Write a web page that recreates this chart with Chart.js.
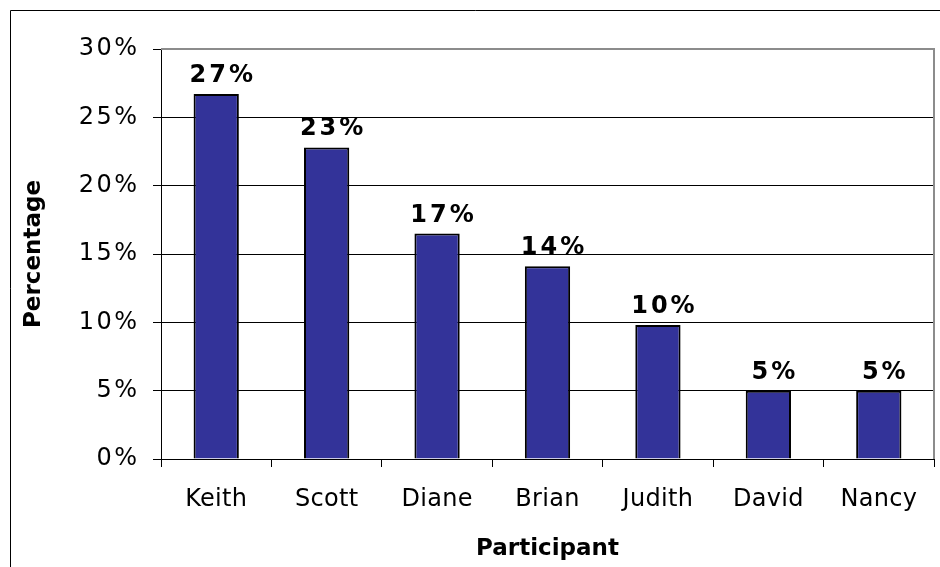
<!DOCTYPE html>
<html>
<head>
<meta charset="utf-8">
<title>Participant percentages</title>
<script src="https://cdn.jsdelivr.net/npm/chart.js@4/dist/chart.umd.min.js"></script>
<style>
  html, body { margin: 0; padding: 0; background: #fff; overflow: hidden; }
  canvas { display: block; }
</style>
</head>
<body>
<canvas id="chart" width="940" height="567"></canvas>
<script>
// Chart data
const participants = ['Keith', 'Scott', 'Diane', 'Brian', 'Judith', 'David', 'Nancy'];
const percentages = [26.7, 22.8, 16.5, 14.1, 9.8, 5.0, 5.0];
const yTicks = [0, 5, 10, 15, 20, 25, 30];

const FONT = "'DejaVu Sans', Verdana, sans-serif";

// wrap a scale's label drawing so its text gets some letter spacing
function spaceLabels(scale, spacing) {
  const proto = Object.getPrototypeOf(scale);
  scale.drawLabels = function (area) {
    const ctx = this.ctx;
    ctx.save();
    if ('letterSpacing' in ctx) ctx.letterSpacing = spacing + 'px';
    proto.drawLabels.call(this, area);
    ctx.restore();
  };
}

// Outer frame and gray plot border, like the spreadsheet export
const framePlugin = {
  id: 'frame',
  beforeDraw(chart) {
    const ctx = chart.ctx;
    ctx.save();
    ctx.strokeStyle = '#000';
    ctx.lineWidth = 1;
    ctx.beginPath();
    ctx.moveTo(10.5, chart.height);
    ctx.lineTo(10.5, 10.5);
    ctx.lineTo(chart.width, 10.5);
    ctx.stroke();
    ctx.restore();
  },
  afterDatasetsDraw(chart) {
    const { ctx, chartArea } = chart;
    ctx.save();
    ctx.strokeStyle = '#8c8c8c';
    ctx.lineWidth = 2;
    ctx.beginPath();
    ctx.moveTo(chartArea.left, chartArea.top);
    ctx.lineTo(chartArea.right, chartArea.top);
    ctx.lineTo(chartArea.right, chartArea.bottom);
    ctx.stroke();
    ctx.restore();
  }
};

// Value labels above each bar
const valueLabels = {
  id: 'valueLabels',
  afterDatasetsDraw(chart) {
    const ctx = chart.ctx;
    const meta = chart.getDatasetMeta(0);
    const spacing = 3;
    ctx.save();
    ctx.font = 'bold 24px ' + FONT;
    ctx.fillStyle = '#000';
    ctx.textAlign = 'center';
    ctx.textBaseline = 'alphabetic';
    if ('letterSpacing' in ctx) ctx.letterSpacing = spacing + 'px';
    meta.data.forEach((bar, i) => {
      // Excel sets these a touch right of the bar centre
      ctx.fillText(Math.round(percentages[i]) + '%', bar.x + spacing / 2 + 5, bar.y - 12);
    });
    ctx.restore();
  }
};

new Chart(document.getElementById('chart'), {
  type: 'bar',
  data: {
    labels: participants,
    datasets: [{
      data: percentages,
      backgroundColor: '#333399',
      borderColor: '#000',
      borderWidth: 2,
      barPercentage: 0.41,
      categoryPercentage: 1
    }]
  },
  options: {
    responsive: false,
    animation: false,
    devicePixelRatio: 1,
    layout: { padding: { top: 49, right: 6, left: 0, bottom: 0 } },
    plugins: {
      legend: { display: false },
      tooltip: { enabled: false }
    },
    scales: {
      x: {
        grid: {
          offset: true,
          drawOnChartArea: false,
          drawTicks: true,
          tickLength: 8,
          color: '#000'
        },
        border: { color: '#000', width: 1 },
        ticks: {
          color: '#000',
          padding: 18,
          font: { family: FONT, size: 24 }
        },
        title: {
          display: true,
          text: 'Participant',
          color: '#000',
          padding: { top: 0, bottom: 4 },
          font: { family: FONT, size: 23, weight: 'bold' }
        },
        afterFit(scale) {
          scale.height = 108;
          spaceLabels(scale, 0.3);
        }
      },
      y: {
        min: 0,
        max: 30,
        afterBuildTicks(scale) { scale.ticks = yTicks.map(v => ({ value: v })); },
        grid: {
          color: '#000',
          lineWidth: 1,
          tickLength: 8
        },
        border: { color: '#000', width: 1 },
        ticks: {
          color: '#000',
          padding: 13.5,
          font: { family: FONT, size: 24 },
          callback: v => v + '%'
        },
        title: {
          display: true,
          text: 'Percentage',
          color: '#000',
          padding: { top: 20, bottom: 0 },
          font: { family: FONT, size: 23, weight: 'bold' }
        },
        afterFit(scale) {
          scale.width = 161;
          spaceLabels(scale, 2.5);
        }
      }
    }
  },
  plugins: [framePlugin, valueLabels]
});
</script>
</body>
</html>
